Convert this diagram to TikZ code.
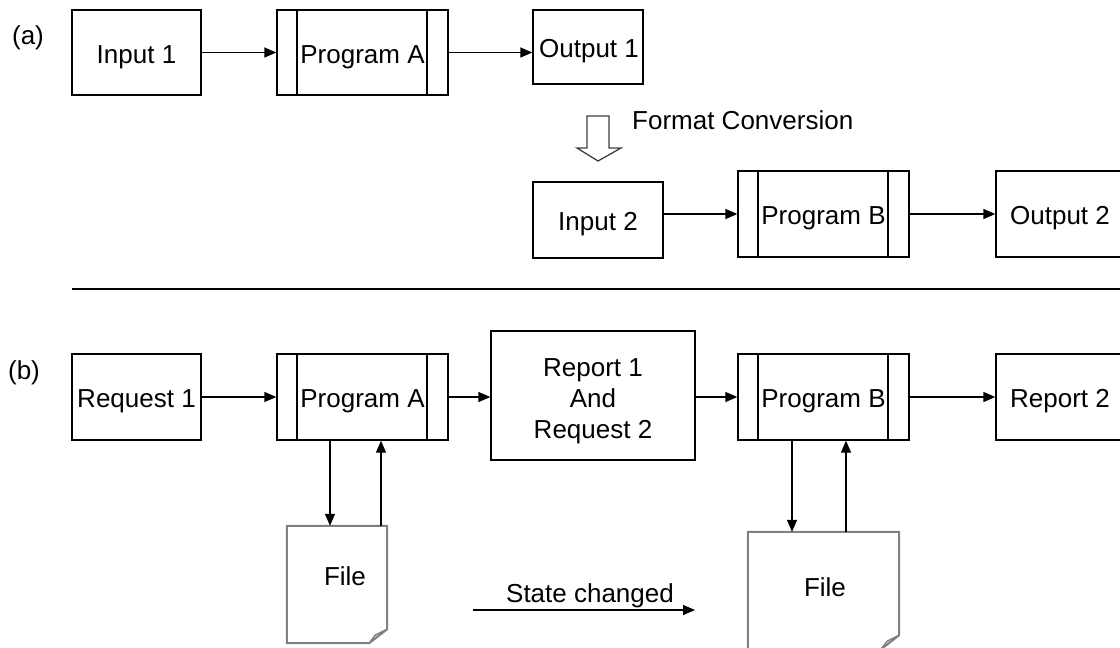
\documentclass[tikz,border=0pt]{standalone}
\usepackage{fontspec}
\setmainfont{Liberation Sans}
\usetikzlibrary{arrows.meta}
\tikzset{
  box/.style={draw, line width=1.3pt, inner sep=0pt, font=\fontsize{26}{31}\selectfont, text height=21pt, text depth=0pt},
  prog/.style={box, minimum width=171pt, minimum height=86pt,
    path picture={
      \draw[line width=1.3pt] ([xshift=20pt]path picture bounding box.north west) -- ([xshift=20pt]path picture bounding box.south west);
      \draw[line width=1.3pt] ([xshift=-21pt]path picture bounding box.north east) -- ([xshift=-21pt]path picture bounding box.south east);
    }},
  arr/.style={line width=1.3pt, -{Triangle[length=12pt,width=10pt]}},
  lbl/.style={inner sep=0pt, font=\fontsize{26}{31}\selectfont, text height=21pt, text depth=0pt},
  fileline/.style={draw=gray, line width=2pt, line join=miter},
}
\begin{document}
\begin{tikzpicture}[x=1pt,y=-1pt]
\useasboundingbox (0,0) rectangle (1120,648);
\clip (0,0) rectangle (1120,648);
\fill[white] (0,0) rectangle (1120,648);
% (a)
\node[lbl] (la) at (28,34) {(a)};
\node[box, minimum width=129pt, minimum height=85pt] (in1) at (136.5,52.5) {Input 1};
\node[prog, minimum height=85pt] (pa1) at (362.5,52.5) {Program A};
\node[box, minimum width=110pt, minimum height=74pt] (out1) at (588,47) {\hspace*{2pt}Output 1};
\draw[arr] (in1.east) -- (pa1.west);
\draw[arr] (pa1.east) -- (pa1.east -| out1.west);
\draw[line width=1.3pt, draw=black!75, line join=miter] (587,116) -- (609,116) -- (609,148) -- (621,148) -- (598,161) -- (577,148) -- (587,148) -- cycle;
\node[lbl, anchor=west] (fc) at (632,119) {Format Conversion};
\node[box, minimum width=130pt, minimum height=76pt] (in2) at (598,220) {Input 2};
\node[prog] (pb1) at (823.5,214) {Program B};
\node[box, minimum width=128pt, minimum height=86pt] (out2) at (1060,214) {Output 2};
\draw[arr] (in2.east |- pb1.west) -- (pb1.west);
\draw[arr] (pb1.east) -- (out2.west);
% separator
\coordinate (s1) at (72,289);
\coordinate (s2) at (1120,289);
\draw[line width=1.3pt] (s1) -- (s2);
% (b)
\node[lbl] (lb) at (24,369) {(b)};
\node[box, minimum width=129pt, minimum height=86pt] (rq1) at (136.5,397) {Request 1};
\node[prog] (pa2) at (362.5,397) {Program A};
\node[draw, line width=1.3pt, inner sep=0pt, font=\fontsize{26}{31}\selectfont, minimum width=204pt, minimum height=129pt] (rep) at (593,395.5) {\raisebox{-12.5pt}[0pt][0pt]{\begin{tabular}{@{}c@{}}Report 1\\And\\Request 2\end{tabular}}};
\node[prog] (pb2) at (823.5,397) {Program B};
\node[box, minimum width=128pt, minimum height=86pt] (rp2) at (1060,397) {Report 2};
\draw[arr] (rq1.east) -- (pa2.west);
\draw[arr] (pa2.east) -- (pa2.east -| rep.west);
\draw[arr] (pb2.west -| rep.east) -- (pb2.west);
\draw[arr] (pb2.east) -- (rp2.west);
% files
\node[lbl, minimum width=100pt, minimum height=117pt, text height=18.6pt, text depth=17pt] (f1) at (337,584.5) {\hspace*{16pt}File};
\node[lbl, minimum width=151pt, minimum height=117pt, text height=18.6pt, text depth=7pt] (f2) at (823.5,590.5) {\hspace*{3pt}File};
\foreach \f in {f1,f2}{
  \draw[fileline] (\f.north west) -- (\f.north east) -- ([yshift=14pt]\f.south east) -- ([xshift=-18pt]\f.south east) -- (\f.south west) -- cycle;
  \draw[draw=gray, line width=1.5pt, line join=round] ([yshift=14pt]\f.south east) -- ([xshift=-12pt,yshift=8pt]\f.south east) -- ([xshift=-18pt]\f.south east);
}
\draw[arr] ([xshift=-32.5pt]pa2.south) -- ([xshift=-32.5pt]pa2.south |- f1.north);
\draw[arr] ([xshift=18.5pt]pa2.south |- f1.north) -- ([xshift=18.5pt]pa2.south);
\draw[arr] ([xshift=-31.5pt]pb2.south) -- ([xshift=-31.5pt]pb2.south |- f2.north);
\draw[arr] ([xshift=22.5pt]pb2.south |- f2.north) -- ([xshift=22.5pt]pb2.south);
% state changed
\coordinate (sc1) at (473,610);
\coordinate (sc2) at (695,610);
\draw[arr] (sc1) -- (sc2);
\node[lbl] (st) at (590,592) {State changed};
\end{tikzpicture}
\end{document}
